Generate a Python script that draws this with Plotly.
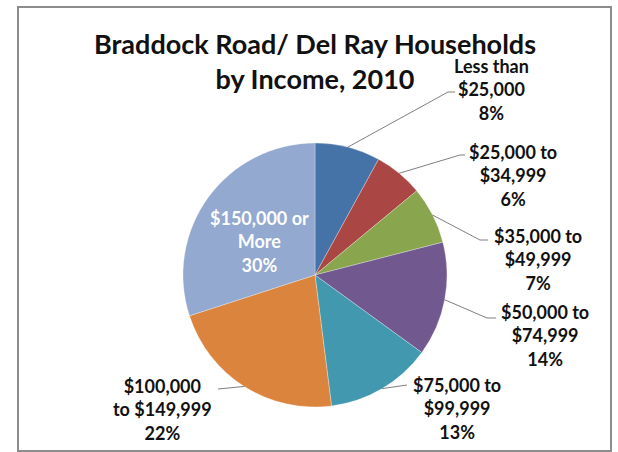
import math
import plotly.graph_objects as go

# Household income brackets, 2010
categories = [
    "Less than $25,000",
    "$25,000 to $34,999",
    "$35,000 to $49,999",
    "$50,000 to $74,999",
    "$75,000 to $99,999",
    "$100,000 to $149,999",
    "$150,000 or More",
]
label_text = [
    "Less than<br>$25,000",
    "$25,000 to<br>$34,999",
    "$35,000 to<br>$49,999",
    "$50,000 to<br>$74,999",
    "$75,000 to<br>$99,999",
    "$100,000<br>to $149,999",
    "$150,000 or<br>More",
]
shares = [8, 6, 7, 14, 13, 22, 30]  # percent of households

colors = ["#4572A7", "#AA4643", "#89A54E", "#71588F", "#4198AF", "#DB843D", "#93A9CF"]

# Canvas and pie geometry (pixels)
W, H = 618, 452
CX, CY, R = 315, 275, 132

# Label placement (pixel centre of the middle text line) and leader-line knees
label_pos = [(491, 90), (513, 176), (538, 259), (545, 335), (457, 408), (162, 409), (259, 241)]
leader_knee = [
    [(448, 92), (455, 92)],
    [(460, 155), (465, 155)],
    [(480, 240), (488, 240)],
    [(487, 318), (496, 318)],
    [(407, 385)],
    [(218, 389)],
    None,
]
label_color = ["#111111"] * 6 + ["#FFFFFF"]


def px(x):
    return x / W


def py(y):
    return 1 - y / H


fig = go.Figure(
    go.Pie(
        labels=categories,
        values=shares,
        sort=False,
        direction="clockwise",
        rotation=0,
        marker=dict(colors=colors, line=dict(color="rgba(255,255,255,0.5)", width=0.6)),
        textinfo="none",
        hoverinfo="label+percent",
        showlegend=False,
        domain=dict(x=[px(CX - R), px(CX + R)], y=[py(CY + R), py(CY - R)]),
    )
)

total = sum(shares)
annotations = []
shapes = []
cum = 0
for i, v in enumerate(shares):
    mid = (cum + v / 2) / total * 2 * math.pi
    cum += v
    lx, ly = label_pos[i]
    annotations.append(
        dict(
            x=px(lx), y=py(ly), xref="paper", yref="paper",
            text=f"<b>{label_text[i]}<br>{v}%</b>",
            showarrow=False, xanchor="center", yanchor="middle", align="center",
            font=dict(family="Lato", size=18, color=label_color[i]),
        )
    )
    if leader_knee[i]:
        ex = CX + R * math.sin(mid)
        ey = CY - R * math.cos(mid)
        pts = [(ex, ey)] + leader_knee[i]
        path = "M " + " L ".join(f"{px(x)},{py(y)}" for x, y in pts)
        shapes.append(
            dict(type="path", xref="paper", yref="paper", path=path,
                 line=dict(color="#7F7F7F", width=1))
        )

# Chart frame
shapes.append(
    dict(type="rect", xref="paper", yref="paper",
         x0=px(18), x1=px(611), y0=py(451), y1=py(7),
         line=dict(color="#8C8C8C", width=2), fillcolor="rgba(0,0,0,0)")
)

fig.update_layout(
    width=W, height=H,
    margin=dict(l=0, r=0, t=0, b=0),
    paper_bgcolor="white",
    plot_bgcolor="white",
    title=dict(
        text="<b>Braddock Road/ Del Ray Households<br>by Income, 2010</b>",
        x=315 / W, xanchor="center", xref="container",
        y=1 - 54 / H, yanchor="middle", yref="container",
        font=dict(family="Lato", size=27, color="#111111"),
    ),
    annotations=annotations,
    shapes=shapes,
)

fig.write_html("out.html")
